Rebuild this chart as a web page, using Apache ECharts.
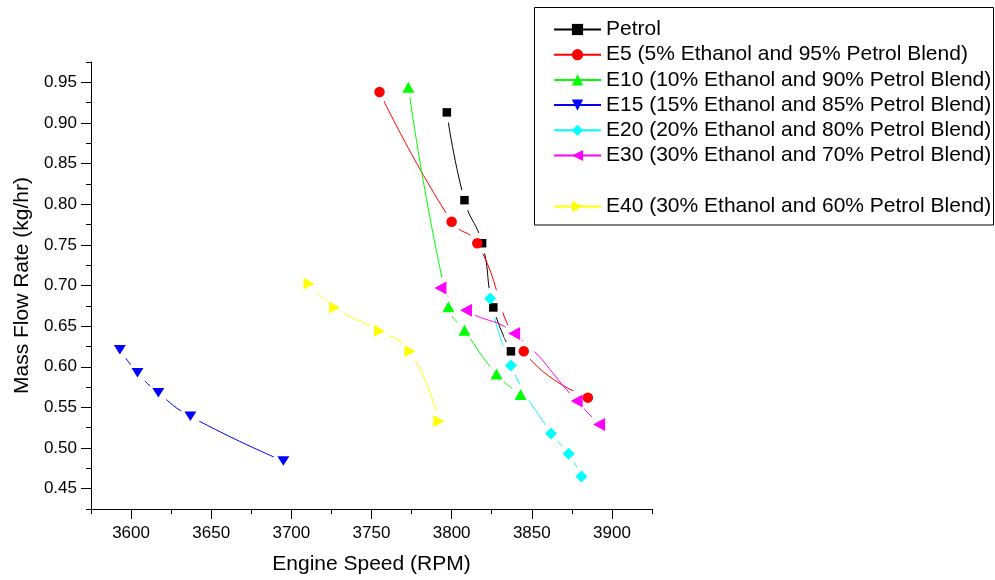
<!DOCTYPE html>
<html>
<head>
<meta charset="utf-8">
<script src="https://cdn.jsdelivr.net/npm/echarts@6/dist/echarts.min.js"></script>
<style>
html, body { margin: 0; background: #fff; }
#chart { width: 995px; height: 580px; }
</style>
</head>
<body>
<div id="chart"></div>
<script>
// engine speed (RPM), mass flow rate (kg/hr)
const petrol = [[3797, 0.913], [3808, 0.805], [3819, 0.752], [3826, 0.673], [3837, 0.619]]
const e5 = [[3755, 0.938], [3800, 0.7785], [3816, 0.752], [3845, 0.619], [3885, 0.562]]
const e10 = [[3773, 0.944], [3798, 0.674], [3808, 0.645], [3828, 0.591], [3843, 0.566]]
const e15 = [[3593, 0.621], [3604, 0.5925], [3617, 0.568], [3637, 0.539], [3695, 0.484]]
const e20 = [[3824, 0.684], [3837, 0.6015], [3862, 0.518], [3873, 0.493], [3881, 0.465]]
const e30 = [[3793, 0.697], [3809, 0.6695], [3839, 0.641], [3878, 0.558], [3892, 0.529]]
const e40 = [[3711, 0.702], [3727, 0.673], [3755, 0.644], [3774, 0.619], [3792, 0.533]]

const names = [
    'Petrol',
    'E5 (5% Ethanol and 95% Petrol Blend)',
    'E10 (10% Ethanol and 90% Petrol Blend)',
    'E15 (15% Ethanol and 85% Petrol Blend)',
    'E20 (20% Ethanol and 80% Petrol Blend)',
    'E30 (30% Ethanol and 70% Petrol Blend)',
    'E40 (30% Ethanol and 60% Petrol Blend)'
]

const xTicks = [3600, 3650, 3700, 3750, 3800, 3850, 3900]
const xMinorTicks = [3575, 3625, 3675, 3725, 3775, 3825, 3875, 3925]
const yTicks = [0.45, 0.50, 0.55, 0.60, 0.65, 0.70, 0.75, 0.80, 0.85, 0.90, 0.95]
const yMinorTicks = [0.425, 0.475, 0.525, 0.575, 0.625, 0.675, 0.725, 0.775, 0.825, 0.875, 0.925, 0.975]

const allData = [petrol, e5, e10, e15, e20, e30, e40]
const colors = ['#000000', '#ff0000', '#00ff00', '#0000ff', '#00ffff', '#ff00ff', '#ffff00']
const symbols = ['rect', 'circle', 'triangle', 'triangle', 'diamond', 'triangle', 'triangle']
const symbolSizes = [8.5, 10.5, [12, 11], [12, 9.5], [12, 12], [13, 12], [12, 11]]
const rotates = [0, 0, 0, 180, 0, 90, -90]

const font = 'Liberation Sans, Arial, sans-serif'

const chart = echarts.init(document.getElementById('chart'))

const series = []
allData.forEach((d, i) => {
    // the curve itself
    series.push({
        name: names[i],
        type: 'line',
        data: d,
        smooth: 0.5,
        showSymbol: false,
        symbol: symbols[i],
        symbolRotate: rotates[i],
        lineStyle: { color: colors[i], width: 1 },
        itemStyle: { color: colors[i] },
        z: 2,
        silent: true
    })
    // white gap round the markers, like Origin does
    series.push({
        name: 'gap' + i,
        type: 'scatter',
        data: d,
        symbol: 'circle',
        symbolSize: 21,
        itemStyle: { color: '#ffffff', opacity: 1 },
        z: 3,
        silent: true
    })
    series.push({
        name: 'mark' + i,
        type: 'scatter',
        data: d,
        symbol: symbols[i],
        symbolSize: symbolSizes[i],
        symbolRotate: rotates[i],
        itemStyle: { color: colors[i], opacity: 1 },
        z: 4,
        silent: true
    })
})

const axisCommon = {
    type: 'value',
    splitLine: { show: false },
    axisLine: { show: true, lineStyle: { color: '#000', width: 1 } }
}

const legendCommon = {
    orient: 'vertical',
    left: 553,
    padding: 0,
    itemWidth: 47,
    itemHeight: 14,
    itemGap: 4.2,
    selectedMode: false,
    textStyle: { fontSize: 21, fontFamily: font, color: '#000' }
}

const option = {
    animation: false,
    backgroundColor: '#fff',
    grid: { left: 91, top: 62, width: 561, height: 452.5 },
    xAxis: [
        {
            ...axisCommon,
            min: 3575,
            max: 3925,
            position: 'bottom',
            name: 'Engine Speed (RPM)',
            nameLocation: 'middle',
            nameGap: 45,
            nameTextStyle: { fontSize: 21, fontFamily: font, color: '#000' },
            axisTick: { customValues: xTicks, length: 10, lineStyle: { color: '#000' } },
            axisLabel: {
                customValues: xTicks,
                fontSize: 17,
                fontFamily: font,
                color: '#000',
                margin: 16,
                formatter: v => String(v)
            }
        },
        {
            type: 'value',
            min: 3575,
            max: 3925,
            position: 'bottom',
            splitLine: { show: false },
            axisLine: { show: false },
            axisLabel: { show: false },
            axisTick: { show: true, customValues: xMinorTicks, length: 5, lineStyle: { color: '#000' } }
        }
    ],
    yAxis: [
        {
            ...axisCommon,
            min: 0.425,
            max: 0.975,
            position: 'left',
            name: 'Mass Flow Rate (kg/hr)',
            nameLocation: 'middle',
            nameGap: 58,
            nameTextStyle: { fontSize: 21, fontFamily: font, color: '#000' },
            axisTick: { customValues: yTicks, length: 10, lineStyle: { color: '#000' } },
            axisLabel: {
                customValues: yTicks,
                fontSize: 17,
                fontFamily: font,
                color: '#000',
                margin: 14,
                formatter: v => v.toFixed(2)
            }
        },
        {
            type: 'value',
            min: 0.425,
            max: 0.975,
            position: 'left',
            splitLine: { show: false },
            axisLine: { show: false },
            axisLabel: { show: false },
            axisTick: { show: true, customValues: yMinorTicks, length: 5, lineStyle: { color: '#000' } }
        }
    ],
    legend: [
        { ...legendCommon, top: 19, data: names.slice(0, 6) },
        { ...legendCommon, top: 196, data: names.slice(6) }
    ],
    graphic: [
        {
            type: 'rect',
            shape: { x: 534.5, y: 7.5, width: 459, height: 217.5 },
            style: { fill: 'none', stroke: '#000', lineWidth: 1 },
            z: 10
        }
    ],
    series: series
}

chart.setOption(option)
</script>
</body>
</html>
